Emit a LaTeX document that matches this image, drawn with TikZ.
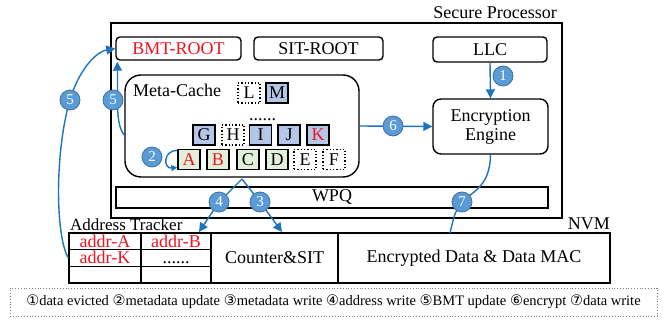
\documentclass[tikz,border=0pt]{standalone}
\usepackage{fontspec}
\setmainfont{Liberation Serif}
\newfontfamily\symfont{DejaVu Sans}
\usetikzlibrary{arrows.meta}
\definecolor{arrowblue}{HTML}{1E73BE}
\definecolor{badgefill}{HTML}{5B9BD5}
\definecolor{badgeedge}{HTML}{41719C}
\definecolor{cellblue}{HTML}{B4C7E7}
\definecolor{cellgreen}{HTML}{E2F0D9}
\definecolor{myred}{HTML}{F0141E}
\newcommand\fbig{\fontsize{18}{21}\selectfont}
\newcommand\cn[1]{{\symfont\fontsize{14.5}{16}\selectfont #1}}
\begin{document}
\begin{tikzpicture}[x=1pt,y=-1pt,
  box/.style={draw, line width=1.4pt, rounded corners=4pt, inner sep=0pt, font=\fbig},
  sqbox/.style={draw, line width=1.4pt, inner sep=0pt, font=\fbig},
  cell/.style={draw, line width=1.3pt, minimum width=22pt, minimum height=20pt, inner sep=0pt, font=\fbig},
  bluecell/.style={cell, fill=cellblue},
  greencell/.style={cell, fill=cellgreen},
  dotcell/.style={cell, dotted, line width=1.5pt},
  tcell/.style={draw, line width=1.4pt, inner sep=0pt, minimum height=16.67pt, font=\fbig, text height=12pt, text depth=0pt},
  badge/.style={circle, fill=badgefill, draw=badgeedge, line width=0.8pt, text=white, minimum size=20pt, inner sep=0pt, font=\fontsize{15}{15}\selectfont},
  arr/.style={draw=arrowblue, line width=1.4pt, -{Triangle[length=9pt,width=9pt]}},
  arrline/.style={draw=arrowblue, line width=1.4pt},
  lbl/.style={inner sep=0pt, font=\fbig}
]
\useasboundingbox (0,0) rectangle (667,320);

% secure processor
\node[sqbox, minimum width=451pt, minimum height=195pt] (sp) at (336.5,120.5) {};
\node[lbl, anchor=base east] (splbl) at (557,19) {Secure Processor};

\node[box, minimum width=125pt, minimum height=23pt, text=myred] (bmt) at (178.5,48.5) {BMT-ROOT};
\node[box, minimum width=129pt, minimum height=23pt] (sit) at (318.5,48.5) {SIT-ROOT};
\node[box, minimum width=114pt, minimum height=25pt] (llc) at (490,49.5) {LLC};
\node[box, minimum width=115pt, minimum height=55pt, rounded corners=8pt, align=center] (enc) at (490.5,126.5) {Encryption\\[-2pt]Engine};

% meta cache
\node[box, minimum width=234pt, minimum height=102pt, rounded corners=16pt] (meta) at (242,126) {};
\node[lbl, anchor=base west] (metalbl) at (133,97) {Meta-Cache};
\node[dotcell] (L) at (249,93) {L};
\node[bluecell] (M) at (277,93) {M};
\node[lbl, anchor=base] (dots1) at (262.5,121) {......};
\node[bluecell] (G) at (204,135) {G};
\node[dotcell] (H) at (233,135) {H};
\node[bluecell] (I) at (260.5,135) {I};
\node[bluecell] (J) at (289,135) {J};
\node[bluecell, text=myred] (K) at (318,135) {K};
\node[greencell, text=myred] (A) at (189,159.5) {A};
\node[greencell, text=myred] (B) at (218,159.5) {B};
\node[greencell] (C) at (248,159.5) {C};
\node[greencell] (D) at (277,159.5) {D};
\node[dotcell] (E) at (305,159.5) {E};
\node[dotcell] (F) at (334,159.5) {F};

% WPQ
\node[sqbox, minimum width=432pt, minimum height=21pt] (wpq) at (332,197.5) {WPQ};

% NVM
\node[lbl, anchor=base west, font=\fontsize{17}{20}\selectfont] (atlbl) at (70,230.5) {Address Tracker};
\node[lbl, anchor=base east] (nvmlbl) at (610,230) {NVM};
\node[tcell, minimum width=72pt, text=myred] (t11) at (105,241.33) {addr-A};
\node[tcell, minimum width=70pt, text=myred] (t12) at (176,241.33) {addr-B};
\node[tcell, minimum width=72pt, text=myred] (t21) at (105,258) {addr-K};
\node[tcell, minimum width=70pt] (t22) at (176,258) {......};
\node[tcell, minimum width=72pt] (t31) at (105,274.67) {};
\node[tcell, minimum width=70pt] (t32) at (176,274.67) {};
\node[sqbox, minimum width=127pt, minimum height=50pt] (cnt) at (274.5,258) {Counter\&SIT};
\node[sqbox, minimum width=272pt, minimum height=50pt] (ed) at (474,258) {Encrypted Data \& Data MAC};

% connector coordinates
\coordinate (p5o) at (70,100);
\coordinate (p34) at (242,179);
\coordinate (p4) at (219,202);
\coordinate (p3) at (260,202);
\coordinate (tip4) at (199,232);
\coordinate (tip3) at (282,232);
\coordinate (p7) at (462,202);
\coordinate (nvmtop) at (450,233);

% connectors
\draw[arr] (llc.south) -- (enc.north);
\draw[arr] (meta.east) -- (enc.west);
\draw[arrline] (enc.south) .. controls (490,185) and (475,190) .. (p7) .. controls (455,212) .. (nvmtop);
\draw[arr] (125,136) .. controls (115,125) and (118,100) .. ([xshift=2pt,yshift=-1pt]bmt.south west);
\draw[arr] (t21.west) .. controls (55,235) and (55,150) .. (p5o) .. controls (78,72) and (95,52) .. (bmt.west);
\draw[arr, -{Triangle[length=6pt,width=6pt]}] ([yshift=9pt]A.west) .. controls (163,150) and (163,169) .. ([yshift=-8pt]A.west);
\draw[arr] (p34) -- (p4) -- (tip4);
\draw[arr] (p34) -- (p3) -- (tip3);

% badges
\node[badge] (b1) at (503,76) {1};
\node[badge] (b2) at (152,157) {2};
\node[badge] (b3) at (p3) {3};
\node[badge] (b4) at (p4) {4};
\node[badge] (b5i) at (113,100) {5};
\node[badge] (b5o) at (p5o) {5};
\node[badge] (b6) at (393,126) {6};
\node[badge] (b7) at (p7) {7};

% legend
\node[draw=gray, dotted, line width=0.8pt, minimum width=647pt, minimum height=28pt, inner sep=0pt, font=\fontsize{14.5}{16}\selectfont] (legend) at (333.5,302)
 {\cn{①}data evicted \cn{②}metadata update \cn{③}metadata write \cn{④}address write \cn{⑤}BMT update \cn{⑥}encrypt \cn{⑦}data write};
\end{tikzpicture}
\end{document}
